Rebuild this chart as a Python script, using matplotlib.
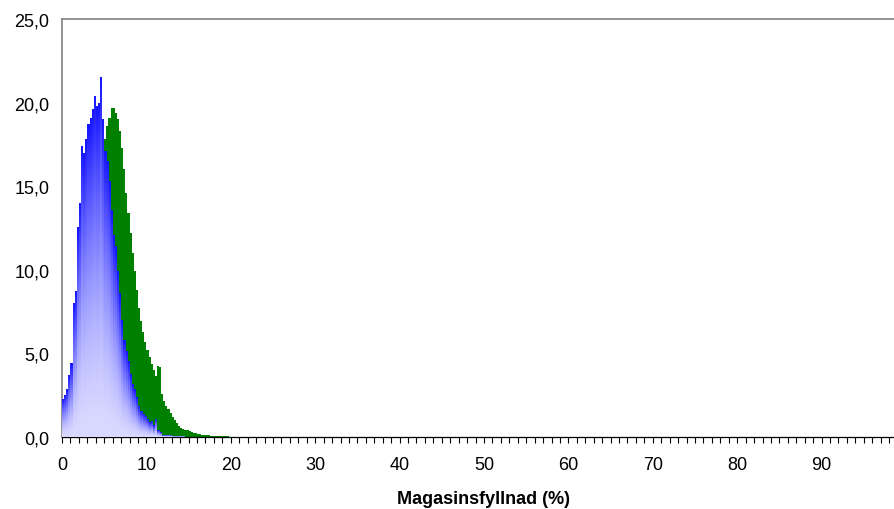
#!/usr/bin/env python
# -*- coding: UTF-8 -*-

import numpy as np
import matplotlib
matplotlib.use('Agg')
import matplotlib.pyplot as plt
from matplotlib.ticker import MultipleLocator, FuncFormatter

plt.rcParams['font.family'] = ['Liberation Sans', 'DejaVu Sans']

BIN_WIDTH = 0.25   # % magasinsfyllnad per stapel

# blå fördelning, staplar från 0 %
BLUE_START = 0.0
BLUE_VALUES = [2.3, 2.5, 2.85, 3.7, 4.4, 8.0, 8.75, 12.56, 14.0, 17.4,
               17.0, 17.8, 18.7, 19.08, 19.62, 20.41, 19.8, 20.0, 21.53, 19.0,
               17.1, 16.5, 15.3, 13.6, 12.1, 11.4, 9.95, 8.6, 7.0, 5.8,
               5.16, 4.56, 3.77, 3.17, 2.87, 2.39, 1.87, 1.57, 1.38, 1.28,
               1.08, 0.9, 0.97, 0.7, 1.1, 0.4, 0.3, 0.12, 0.12, 0.12,
               0.12, 0.12, 0.05, 0.05, 0.05, 0.05, 0.05, 0.05]

# grön fördelning, synlig från 5 %
GREEN_START = 5.0
GREEN_VALUES = [17.8, 18.6, 19.1, 19.7, 19.65, 19.4, 19.0, 18.3, 17.3, 16.0,
                14.6, 13.4, 12.2, 11.0, 9.9, 8.8, 7.7, 6.96, 6.3, 5.7,
                5.2, 4.77, 4.35, 4.0, 3.65, 4.27, 4.19, 2.6, 2.15, 1.85,
                1.65, 1.44, 1.18, 1.04, 0.84, 0.68, 0.56, 0.5, 0.44, 0.4,
                0.34, 0.3, 0.24, 0.22, 0.2, 0.18, 0.14, 0.14, 0.12, 0.1,
                0.06, 0.06, 0.06, 0.06, 0.06, 0.06, 0.06, 0.06, 0.06]

Y_TICKS = [0, 5, 10, 15, 20, 25]
Y_MAX = 25
X_LABEL = 'Magasinsfyllnad (%)'

BLUE_TOP = np.array([20, 20, 255]) / 255.
BLUE_BOTTOM = np.array([218, 218, 255]) / 255.
GREEN = '#008000'


def blue_gradient_bars(heights, n_rows = 1500):
	'''
	RGBA-bild där varje kolumn är en stapel, toningen går från ljus botten
	till blå topp relativt stapelns egen höjd
	'''
	h = np.asarray(heights, dtype = float)
	yc = (np.arange(n_rows) + 0.5) / n_rows * Y_MAX
	t = np.clip(yc[:, None] / h[None, :], 0, 1)
	inside = yc[:, None] <= h[None, :]
	t = t ** 1.5
	img = np.zeros((n_rows, len(h), 4))
	img[..., :3] = BLUE_BOTTOM + (BLUE_TOP - BLUE_BOTTOM) * t[..., None]
	img[..., 3] = inside
	return img


fig = plt.figure(figsize = (8.95, 5.1), dpi = 100)
ax = fig.add_axes([62/895, 72/510, 844/895, 418/510])

# gröna staplar som en sammanhängande trappa (inga glipor mellan staplarna)
edges = GREEN_START + BIN_WIDTH*np.arange(len(GREEN_VALUES) + 1)
ax.fill_between(edges, list(GREEN_VALUES) + [GREEN_VALUES[-1]], 0, step = 'post',
				color = GREEN, linewidth = 0, zorder = 2)

img = blue_gradient_bars(BLUE_VALUES)
ax.imshow(img, extent = (BLUE_START, BLUE_START + BIN_WIDTH*len(BLUE_VALUES), 0, Y_MAX),
		  origin = 'lower', aspect = 'auto', interpolation = 'nearest', zorder = 3)

ax.set_xlim(0, 100)
ax.set_ylim(0, Y_MAX)

ax.xaxis.set_major_locator(MultipleLocator(1))
ax.xaxis.set_major_formatter(FuncFormatter(lambda v, p: '%d' % v if round(v) % 10 == 0 and v < 95 else ''))
ax.set_yticks(Y_TICKS)
ax.yaxis.set_major_formatter(FuncFormatter(lambda v, p: ('%.1f' % v).replace('.', ',')))

ax.tick_params(axis = 'x', direction = 'out', length = 4, width = 0.8, pad = 10,
			   labelsize = 13, colors = 'black')
ax.tick_params(axis = 'y', length = 0, pad = 9, labelsize = 13)

for side in ['left', 'top']:
	ax.spines[side].set_color('#808080')
	ax.spines[side].set_linewidth(1.2)
ax.spines['bottom'].set_color('black')
ax.spines['bottom'].set_linewidth(0.9)
ax.spines['right'].set_visible(False)

ax.set_xlabel(X_LABEL, fontsize = 13, fontweight = 'bold', labelpad = 12)

fig.savefig('out.png', dpi = 100)
